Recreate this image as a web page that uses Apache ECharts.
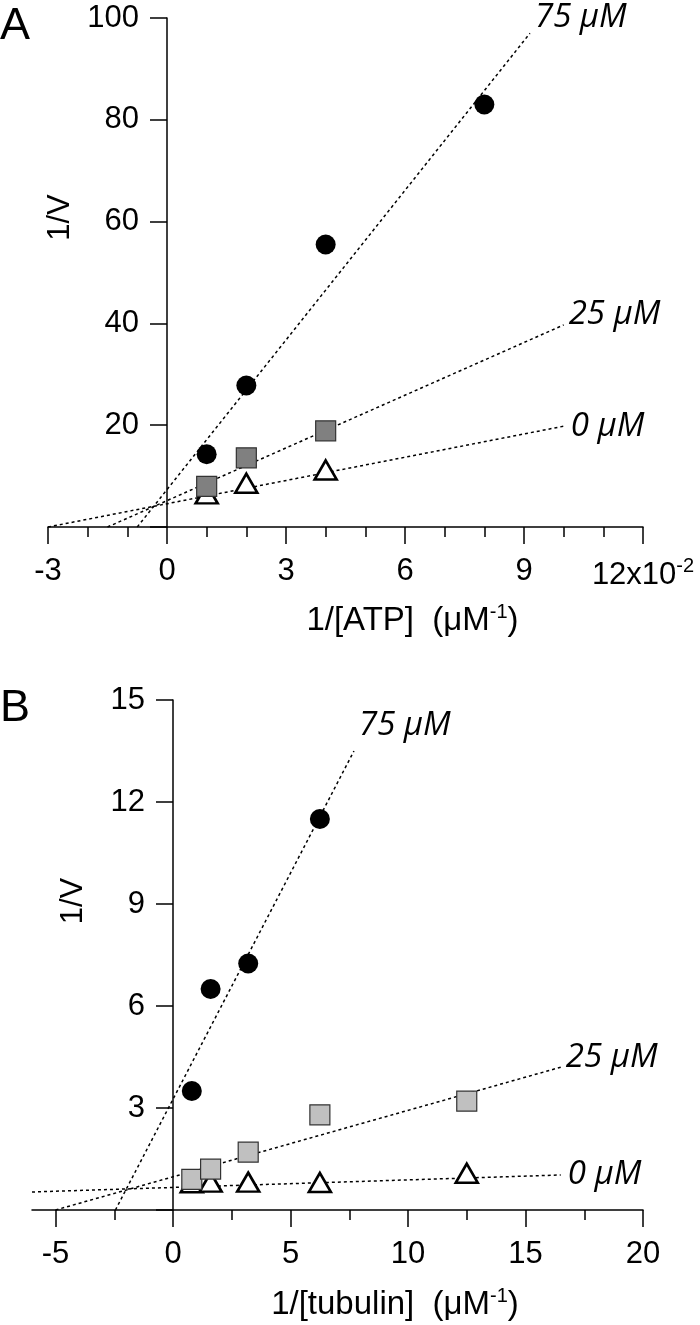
<!DOCTYPE html>
<html>
<head>
<meta charset="utf-8">
<script src="https://cdn.jsdelivr.net/npm/echarts@6/dist/echarts.min.js"></script>
<style>
  html, body { margin: 0; padding: 0; background: #fff; }
  #main { width: 700px; height: 1325px; }
</style>
</head>
<body>
<div id="main"></div>
<script>
// 数据 A：1/[ATP] (x10^-2)
var atpX = [1, 2, 4, 8];
var atp75 = [14.3, 27.8, 55.5, 83];
var atp25X = [1, 2, 4];
var atp25 = [8.0, 13.6, 18.9];
var atp0X = [1, 2, 4];
var atp0 = [6.5, 8.6, 11.2];
// 拟合直线端点 [x, y]
var atpFit75 = [[-0.75, 0], [9.15, 97]];
var atpFit25 = [[-1.5, 0], [10.0, 39.7]];
var atpFit0 = [[-3, 0], [10.0, 19.8]];

// 数据 B：1/[tubulin]
var tubX = [0.8, 1.6, 3.2, 6.25, 12.5];
var tub75X = [0.8, 1.6, 3.2, 6.25];
var tub75 = [3.5, 6.5, 7.25, 11.5];
var tub25 = [0.9, 1.2, 1.7, 2.8, 3.2];
var tub0 = [0.8, 0.82, 0.82, 0.81, 1.08];
var tubFit75 = [[-2.45, 0], [7.7, 13.5]];
var tubFit25 = [[-5, 0], [16.5, 4.2]];
var tubFit0 = [[-6, 0.53], [16.5, 1.03]];

// 刻度
var atpTicks = [-3, 0, 3, 6, 9, 12];
var tubTicks = [-5, 0, 5, 10, 15, 20];
var tubMinor = [-2.5, 2.5, 7.5, 12.5, 17.5];

var FONT = '"Liberation Sans", Arial, sans-serif';
var ITALIC = '"Open Sans", "DejaVu Sans", sans-serif';

function pairs(xs, ys) {
    return xs.map(function (x, i) { return [x, ys[i]]; });
}

var supRich = {
    sup: { fontSize: 20, fontFamily: FONT, color: '#000', verticalAlign: 'top', padding: [0, 0, 18, 0] }
};

function fitLine(data, label, offset, xi, yi) {
    return {
        type: 'line', data: data, xAxisIndex: xi, yAxisIndex: yi,
        symbol: 'none', z: 1, silent: true,
        lineStyle: { color: '#000', width: 1.5, type: [3, 3] },
        endLabel: {
            show: true, formatter: label, offset: offset, distance: 5,
            fontFamily: ITALIC, fontStyle: 'italic', fontSize: 33, color: '#000'
        }
    };
}

function scatter(data, kind, xi, yi, fill) {
    var s = { type: 'scatter', data: data, xAxisIndex: xi, yAxisIndex: yi, silent: true };
    if (kind === 'circle') {
        s.symbol = 'circle'; s.symbolSize = 20; s.z = 4;
        s.itemStyle = { color: '#000', opacity: 1 };
    } else if (kind === 'rect') {
        s.symbol = 'rect'; s.symbolSize = 20; s.z = 3;
        s.itemStyle = { color: fill, borderColor: '#333', borderWidth: 1.2, opacity: 1 };
    } else {
        s.symbol = 'triangle'; s.symbolSize = [22, 19]; s.z = 2;
        s.itemStyle = { color: '#fff', borderColor: '#000', borderWidth: 2.6, opacity: 1 };
    }
    return s;
}

var axisLineStyle = { color: '#000', width: 1.5 };
var labelStyle = { color: '#000', fontFamily: FONT, fontSize: 31 };

function yAxisAt(gridIndex, max, interval, namePad) {
    return {
        gridIndex: gridIndex, type: 'value', min: 0, max: max, interval: interval,
        position: 'left', offset: 0,
        axisLine: { onZero: false, lineStyle: axisLineStyle },
        axisTick: { length: 17, lineStyle: axisLineStyle },
        splitLine: { show: false },
        axisLabel: Object.assign({
            margin: 28,
            formatter: function (v) { return v === 0 ? '' : String(v); }
        }, labelStyle),
        name: '1/V', nameLocation: 'middle', nameGap: 84,
        nameTextStyle: { color: '#000', fontFamily: FONT, fontSize: 31, padding: [0, 0, 0, namePad] }
    };
}

var option = {
    animation: false,
    backgroundColor: '#fff',
    grid: [
        { left: 48, right: 57, top: 18, height: 509, outerBoundsMode: 'none', containLabel: false },
        { left: 32, right: 57, top: 700, height: 510, outerBoundsMode: 'none', containLabel: false }
    ],
    graphic: [
        { type: 'text', left: 0, top: 4, style: { text: 'A', font: '45px ' + FONT, fill: '#000' } },
        { type: 'text', left: 0, top: 686, style: { text: 'B', font: '45px ' + FONT, fill: '#000' } }
    ],
    xAxis: [
        {
            gridIndex: 0, type: 'value', min: atpTicks[0], max: atpTicks[atpTicks.length - 1], interval: 3,
            axisLine: { onZero: false, lineStyle: axisLineStyle },
            axisTick: { length: 17, lineStyle: axisLineStyle },
            minorTick: { show: true, splitNumber: 3, length: 10, lineStyle: axisLineStyle },
            splitLine: { show: false },
            axisLabel: Object.assign({
                margin: 29,
                formatter: function (v) { return v === 12 ? '12x10{sup|-2}' : String(v); },
                rich: Object.assign({ n: {} }, supRich)
            }, labelStyle),
            name: '1/[ATP]  (μM{sup|-1})', nameLocation: 'middle', nameGap: 75,
            nameTextStyle: { color: '#000', fontFamily: FONT, fontSize: 33, padding: [0, 0, 0, 134], rich: supRich }
        },
        {
            gridIndex: 1, type: 'value', min: -6, max: 20,
            axisLine: { onZero: false, lineStyle: axisLineStyle },
            axisTick: { length: 17, lineStyle: axisLineStyle, customValues: tubTicks },
            splitLine: { show: false },
            axisLabel: Object.assign({ margin: 29, customValues: tubTicks }, labelStyle),
            name: '1/[tubulin]  (μM{sup|-1})', nameLocation: 'middle', nameGap: 76,
            nameTextStyle: { color: '#000', fontFamily: FONT, fontSize: 33, padding: [0, 0, 0, 115], rich: supRich }
        },
        {
            // 次刻度
            gridIndex: 1, type: 'value', min: -6, max: 20, position: 'bottom',
            axisLine: { show: false, onZero: false },
            axisTick: { length: 10, lineStyle: axisLineStyle, customValues: tubMinor },
            axisLabel: { show: false },
            splitLine: { show: false }
        }
    ],
    yAxis: [
        yAxisAt(0, 100, 20, 110),
        yAxisAt(1, 15, 3, 108)
    ],
    series: [
        // A
        fitLine(atpFit75, '75 μM', [0, -16], 0, 0),
        fitLine(atpFit25, '25 μM', [0, -10], 0, 0),
        fitLine(atpFit0, '0 μM', [2, 0], 0, 0),
        scatter(pairs(atp0X, atp0), 'triangle', 0, 0),
        scatter(pairs(atp25X, atp25), 'rect', 0, 0, '#808080'),
        scatter(pairs(atpX, atp75), 'circle', 0, 0),
        // B
        fitLine(tubFit75, '75 μM', [0, -25], 1, 1),
        fitLine(tubFit25, '25 μM', [0, -10], 1, 1),
        fitLine(tubFit0, '0 μM', [2, 0], 1, 1),
        scatter(pairs(tubX, tub0), 'triangle', 1, 1),
        scatter(pairs(tubX, tub25), 'rect', 1, 1, '#c0c0c0'),
        scatter(pairs(tub75X, tub75), 'circle', 1, 1)
    ]
};

var myChart = echarts.init(document.getElementById('main'), null, { renderer: 'canvas' });
myChart.setOption(option);

// 纵轴放在 x = 0 处（标签随轴移动）
var zeroA = myChart.convertToPixel({ xAxisIndex: 0 }, 0);
var zeroB = myChart.convertToPixel({ xAxisIndex: 1 }, 0);
myChart.setOption({
    yAxis: [
        { offset: -(zeroA - 48) },
        { offset: -(zeroB - 32) }
    ]
});
</script>
</body>
</html>
